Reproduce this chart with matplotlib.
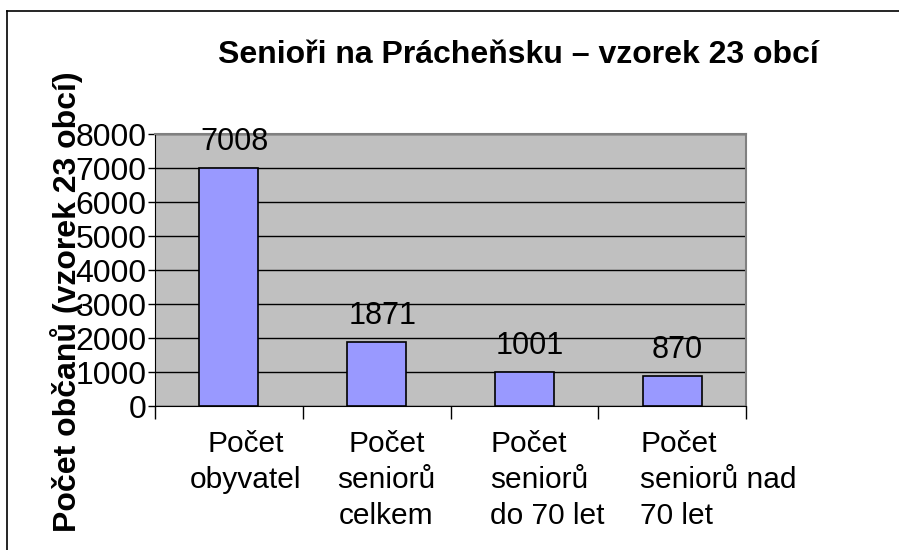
import matplotlib
matplotlib.use("Agg")
import matplotlib.pyplot as plt
from matplotlib.lines import Line2D
import numpy as np

plt.rcParams['font.family'] = ['Liberation Sans', 'DejaVu Sans']

categories = ["Počet\nobyvatel", "Počet\nseniorů\ncelkem", "Počet\nseniorů\ndo 70 let", "Počet\nseniorů nad\n70 let"]
values = [7008, 1871, 1001, 870]
yticks = [0, 1000, 2000, 3000, 4000, 5000, 6000, 7000, 8000]
title = "Senioři na Prácheňsku – vzorek 23 obcí"
ylabel = "Počet občanů (vzorek 23 obcí)"

fig = plt.figure(figsize=(8.99, 5.5), dpi=100)
ax = fig.add_axes([155/899, 1-406/550, (746-155)/899, (406-134)/550])
ax.set_facecolor('#C0C0C0')

x = np.arange(len(values))
ax.bar(x, values, width=0.4, color='#9999FF', edgecolor='black', linewidth=1.2, zorder=3)
ax.set_xlim(-0.5, len(values)-0.5)
ax.set_ylim(0, 8000)
ax.set_yticks(yticks)
ax.set_yticklabels([str(t) for t in yticks], fontsize=23)
ax.yaxis.grid(True, color='black', linewidth=1.0, zorder=1)
ax.set_axisbelow(True)
ax.tick_params(axis='y', direction='out', length=5, width=1, pad=1)
ax.set_xticks(np.arange(-0.5, len(values), 1.0))
ax.set_xticklabels([])
ax.tick_params(axis='x', direction='out', length=9, width=1)
for s in ['top', 'right']:
    ax.spines[s].set_color('#808080')
    ax.spines[s].set_linewidth(1.5)
ax.spines['left'].set_color('black')
ax.spines['bottom'].set_color('black')

for xi, v in zip(x, values):
    ax.annotate(str(v), (xi, v), xytext=(4, 8), textcoords='offset points',
                ha='center', va='bottom', fontsize=22)

# category labels (offsets in points relative to category center)
label_style = [(12, 'center'), (7, 'center'), (-24.5, 'left'), (-23, 'left')]
for xi, lab, (dx, ha) in zip(x, categories, label_style):
    ax.annotate(lab, (xi, 0), xytext=(dx, -17), textcoords='offset points',
                ha=ha, va='top', fontsize=21.5, multialignment='center' if ha == 'center' else 'left',
                linespacing=1.38, annotation_clip=False)

fig.text(518/899, 1-55/550, title, ha='center', va='center', fontsize=23, fontweight='bold')
fig.text(67/899, 1-302/550, ylabel, ha='center', va='center', rotation=90, fontsize=23, fontweight='bold')

# outer chart border (left and top visible)
fig.add_artist(Line2D([7/899, 7/899], [0, 1-11/550], transform=fig.transFigure, color='black', linewidth=1.2))
fig.add_artist(Line2D([7/899, 1], [1-11/550, 1-11/550], transform=fig.transFigure, color='black', linewidth=1.2))

fig.savefig('out.png', dpi=100)
